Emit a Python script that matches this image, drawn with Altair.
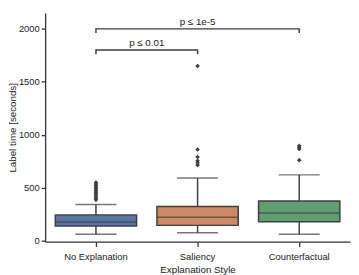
import altair as alt
import pandas as pd

categories = ["No Explanation", "Saliency", "Counterfactual"]
colors = ["#5975a4", "#cc8963", "#5f9e6e"]
q1 = [138, 144, 178]
median = [175, 221, 261]
q3 = [243, 323, 375]
whisker_lo = [61, 74, 61]
whisker_hi = [341, 591, 621]
outliers = {
    "No Explanation": [385, 400, 415, 430, 445, 460, 475, 490, 505, 520, 535, 548],
    "Saliency": [715, 735, 755, 790, 860, 1650],
    "Counterfactual": [760, 865, 880, 895],
}
brackets = [("No Explanation", "Saliency", 1800, "p ≤ 0.01"),
            ("No Explanation", "Counterfactual", 2000, "p ≤ 1e-5")]
bracket_drop = 40

FONT = "Liberation Sans"
GREY = "#3f3f3f"

box_df = pd.DataFrame({"cat": categories, "q1": q1, "median": median, "q3": q3,
                       "lo": whisker_lo, "hi": whisker_hi, "color": colors})
out_df = pd.DataFrame([{"cat": c, "v": v} for c, vs in outliers.items() for v in vs])

rows = []
for i, (a, b, y, label) in enumerate(brackets):
    rows += [{"b": i, "o": 0, "cat": a, "y": y - bracket_drop},
             {"b": i, "o": 1, "cat": a, "y": y},
             {"b": i, "o": 2, "cat": b, "y": y},
             {"b": i, "o": 3, "cat": b, "y": y - bracket_drop}]
br_df = pd.DataFrame(rows)
txt_df = pd.DataFrame([{"cat": a, "y": y, "label": label,
                        "cat_c": "Saliency" if b == "Counterfactual" else a}
                       for a, b, y, label in brackets])

xenc = alt.X("cat:N", sort=categories, title="Explanation Style",
             scale=alt.Scale(domain=categories, paddingInner=0, paddingOuter=0),
             axis=alt.Axis(labelAngle=0, domain=True, ticks=True))
yscale = alt.Scale(domain=[-10, 2150], nice=False, zero=False)
yax = alt.Axis(values=list(range(0, 2001, 250)), grid=False, format="d",
               title="Label time [seconds]", ticks=True)

base = alt.Chart(box_df)
whisk = base.mark_rule(color=GREY, strokeWidth=1.5).encode(
    x=xenc, y=alt.Y("lo:Q", scale=yscale, axis=yax), y2="hi:Q")
caps_lo = base.mark_tick(color=GREY, size=42, thickness=1.5, orient="horizontal").encode(
    x=xenc, y=alt.Y("lo:Q"))
caps_hi = base.mark_tick(color=GREY, size=42, thickness=1.5, orient="horizontal").encode(
    x=xenc, y=alt.Y("hi:Q"))
boxes = base.mark_bar(width=alt.RelativeBandSize(0.8), stroke=GREY, strokeWidth=1.5).encode(
    x=xenc, y="q1:Q", y2="q3:Q",
    color=alt.Color("color:N", scale=None))
med = base.mark_tick(color=GREY, size=83, thickness=1.5, orient="horizontal").encode(
    x=xenc, y="median:Q")
pts = alt.Chart(out_df).mark_point(shape="diamond", filled=True, color=GREY, size=22, opacity=1).encode(
    x=xenc, y="v:Q")
br = alt.Chart(br_df).mark_line(color=GREY, strokeWidth=1.5).encode(
    x=xenc, y="y:Q", order="o:Q", detail="b:N")

txt1 = alt.Chart(txt_df.iloc[[0]]).mark_text(font=FONT, fontSize=10, color="#222222",
                                              baseline="bottom", dy=-2, dx=52).encode(
    x=alt.X("cat:N", sort=categories), y="y:Q", text="label:N")
txt2 = alt.Chart(txt_df.iloc[[1]]).mark_text(font=FONT, fontSize=10, color="#222222",
                                              baseline="bottom", dy=-2).encode(
    x=alt.X("cat_c:N", sort=categories), y="y:Q", text="label:N")

chart = alt.layer(whisk, caps_lo, caps_hi, boxes, med, pts, br, txt1, txt2).properties(
    width=312, height=234,
    autosize=alt.AutoSizeParams(type="none"),
    padding={"left": 38, "top": 2, "right": 1, "bottom": 31},
).configure_view(stroke=None).configure_axis(
    labelFont=FONT, titleFont=FONT, labelFontSize=9.6, titleFontSize=10,
    labelColor="#222222", titleColor="#222222", titleFontWeight="normal",
    domainColor="#333333", domainWidth=1.3, tickColor="#333333", tickWidth=1.3, tickSize=4,
    labelPadding=2, grid=False,
).configure_axisX(titlePadding=4, labelPadding=5, tickSize=5).configure_axisY(titlePadding=1)

chart.save("out.html", embed_options={"renderer": "svg", "actions": False})
